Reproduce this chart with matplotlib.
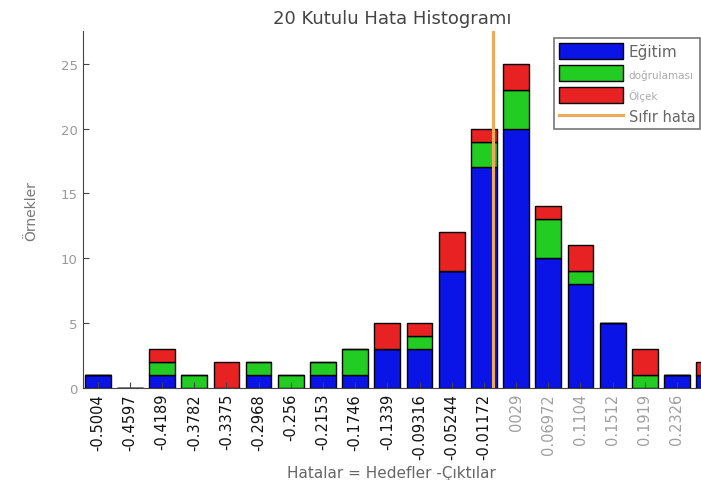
import numpy as np
import matplotlib
matplotlib.use("Agg")
import matplotlib.pyplot as plt

# bin centres and tick labels (as printed on the chart)
centers = [-0.5004, -0.4597, -0.4189, -0.3782, -0.3375, -0.2968, -0.256, -0.2153,
           -0.1746, -0.1339, -0.09316, -0.05244, -0.01172, 0.029, 0.06972, 0.1104,
           0.1512, 0.1919, 0.2326, 0.2733]
labels = ["-0.5004", "-0.4597", "-0.4189", "-0.3782", "-0.3375", "-0.2968", "-0.256",
          "-0.2153", "-0.1746", "-0.1339", "-0.09316", "-0.05244", "-0.01172", "0029",
          "0.06972", "0.1104", "0.1512", "0.1919", "0.2326", "0.2733"]
egitim      = [1, 0, 1, 0, 0, 1, 0, 1, 1, 3, 3, 9, 17, 20, 10, 8, 5, 0, 1, 1]
dogrulamasi = [0, 0, 1, 1, 0, 1, 1, 1, 2, 0, 1, 0, 2, 3, 3, 1, 0, 1, 0, 0]
olcek       = [0, 0, 1, 0, 2, 0, 0, 0, 0, 2, 1, 3, 1, 2, 1, 2, 0, 2, 0, 1]
zero_error = 0.0

c = np.array(centers)
b = np.array(egitim)
g = np.array(dogrulamasi)
r = np.array(olcek)
w = 0.8 * 0.04072
xmin, xmax = -0.5194, 0.263

fig = plt.figure(figsize=(7.01, 4.81), dpi=100)
ax = fig.add_axes([0.118, 0.191, 0.882, 0.742])

h1 = ax.bar(c, b, width=w, color="#0a14e6", edgecolor="black", linewidth=1)
h2 = ax.bar(c, g, width=w, bottom=b, color="#22cc22", edgecolor="black", linewidth=1)
h3 = ax.bar(c, r, width=w, bottom=b + g, color="#e82222", edgecolor="black", linewidth=1)
h4 = ax.axvline(zero_error, color="#eeac5a", linewidth=2.2)

ax.set_xlim(xmin, xmax)
ax.set_ylim(0, 27.5)
for s in ["top", "right"]:
    ax.spines[s].set_visible(False)
ax.spines["left"].set_color("#444444")
ax.spines["bottom"].set_color("#444444")
ax.tick_params(direction="in", length=4, colors="#444444")

ax.set_yticks([0, 5, 10, 15, 20, 25])
ax.tick_params(axis="y", labelcolor="#999999", labelsize=9.5)
shown = c < xmax
ax.set_xticks(c[shown])
ax.set_xticklabels([l for l, s in zip(labels, shown) if s], rotation=90, fontsize=10.5)
for x, t in zip(c[shown], ax.get_xticklabels()):
    if x > 0:
        t.set_color("#a0a0a0")
    else:
        t.set_color("#111111")

ax.set_title("20 Kutulu Hata Histogramı", fontsize=13, color="#444444", pad=6)
ax.set_xlabel("Hatalar = Hedefler -Çıktılar", fontsize=11, color="#666666", labelpad=4)
ax.set_ylabel("Örnekler", fontsize=10, color="#777777", labelpad=16)

leg = ax.legend([h1, h2, h3, h4], ["Eğitim", "doğrulaması", "Ölçek", "Sıfır hata"],
                loc="upper right", bbox_to_anchor=(1.01, 1.0), frameon=True, fancybox=False,
                edgecolor="#555555", handlelength=4.6, handleheight=1.4, borderpad=0.35,
                labelspacing=0.4, handletextpad=0.4, fontsize=10)
leg.get_frame().set_linewidth(1.2)
sizes = [11, 7.5, 7.5, 10.5]
cols = ["#666666", "#aaaaaa", "#aaaaaa", "#666666"]
for t, s, col in zip(leg.get_texts(), sizes, cols):
    t.set_fontsize(s)
    t.set_color(col)

fig.savefig("out.png", dpi=100)
